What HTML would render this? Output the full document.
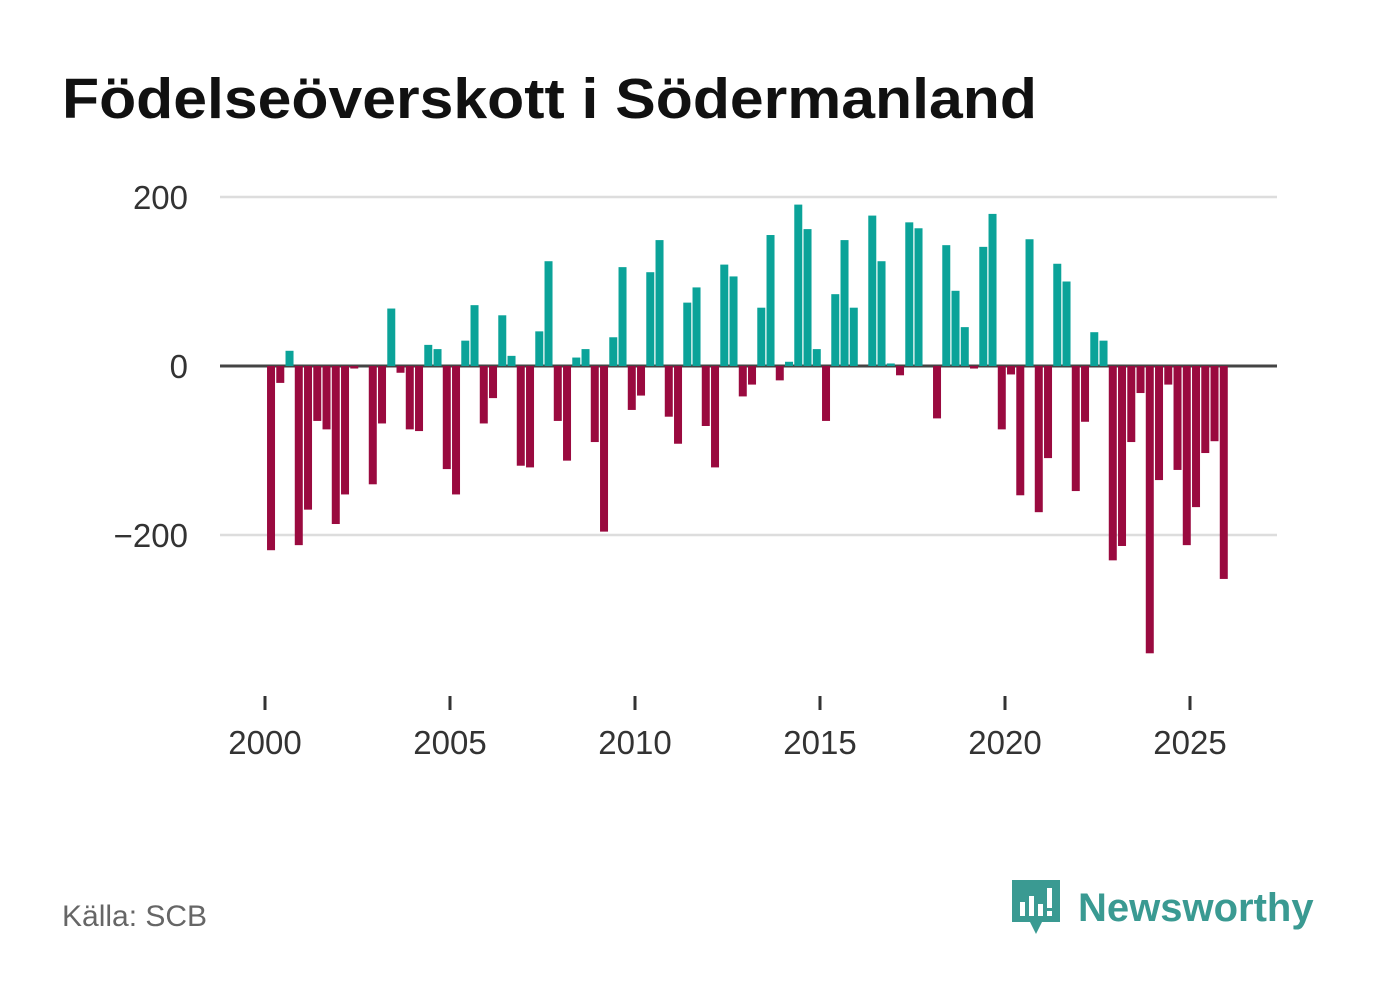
<!DOCTYPE html>
<html><head><meta charset="utf-8">
<style>
body{margin:0;width:1382px;height:999px;background:#fff;font-family:"Liberation Sans","DejaVu Sans",sans-serif;overflow:hidden}
h1{position:absolute;left:62px;top:66px;margin:0;font-size:57px;font-weight:bold;color:#111;transform-origin:0 0;transform:scaleX(1.065);white-space:nowrap}
.src{position:absolute;left:62px;top:900px;font-size:30px;color:#666}
.logo{position:absolute;left:1010px;top:878px;display:flex;align-items:center}
.logo span{font-size:40px;font-weight:bold;color:#3a9a92;margin-left:16px}
</style></head><body>
<h1>Födelseöverskott i Södermanland</h1>
<svg id="chart" width="1382" height="999" style="position:absolute;left:0;top:0"></svg>
<div class="src">Källa: SCB</div>
<div class="logo">
<svg width="52" height="60" viewBox="0 0 52 60"><path d="M2 2h48v42H32l-6 12-6-12H2z" fill="#3a9a92"/><rect x="10" y="24" width="5" height="14" fill="#fff"/><rect x="19" y="18" width="5" height="20" fill="#fff"/><rect x="28" y="26" width="5" height="12" fill="#fff"/><rect x="37" y="10" width="5" height="20" fill="#fff"/><rect x="37" y="33" width="5" height="5" fill="#fff"/></svg>
<span>Newsworthy</span></div>
<script>
const startYear = 2000;
const values = [-218,-20,18,-212,-170,-65,-75,-187,-152,-3,0,-140,-68,68,-8,-75,-77,25,20,-122,-152,30,72,-68,-38,60,12,-118,-120,41,124,-65,-112,10,20,-90,-196,34,117,-52,-35,111,149,-60,-92,75,93,-71,-120,120,106,-36,-22,69,155,-17,5,191,162,20,-65,85,149,69,0,178,124,3,-11,170,163,0,-62,143,89,46,-3,141,180,-75,-10,-153,150,-173,-109,121,100,-148,-66,40,30,-230,-213,-90,-32,-340,-135,-22,-123,-212,-167,-103,-89,-252];
const yTicks = [200,0,-200];
const yTickLabels = ["200","0","\u2212200"];
const xTicks = [2000,2005,2010,2015,2020,2025];
const svg = document.getElementById('chart');
const NS = 'http://www.w3.org/2000/svg';
const y = v => 366 - v * 0.845;
const x = yr => 265 + (yr - 2000) * 37;
function mk(t, a){const e=document.createElementNS(NS,t);for(const k in a)e.setAttribute(k,a[k]);svg.appendChild(e);return e;}
yTicks.forEach((t,i)=>{
  const l = mk('line',{x1:220,x2:1277,y1:y(t),y2:y(t),stroke:t===0?'#444':'#ddd','stroke-width':t===0?3:2.5});
  
  
  const tx = mk('text',{x:188,y:y(t)+12,'text-anchor':'end','font-size':33,fill:'#333','font-family':'Liberation Sans, sans-serif'});
  tx.textContent = yTickLabels[i];
  
  
});
values.forEach((v,i)=>{
  const cx = x(startYear + i/4 + 0.125) + 1.4;
  const r = mk('rect',{x:cx-4,y:Math.min(y(v),y(0)),width:8,height:Math.abs(y(v)-y(0)),fill:v>=0?'#0ba399':'#9a0a3f'});
  
  
});
xTicks.forEach(t=>{
  const l = mk('line',{x1:x(t),x2:x(t),y1:696,y2:710,stroke:'#333','stroke-width':3});
  
  
  const tx = mk('text',{x:x(t),y:754,'text-anchor':'middle','font-size':33,fill:'#333','font-family':'Liberation Sans, sans-serif'});
  tx.textContent = t;
  
  
});
</script>
</body></html>
